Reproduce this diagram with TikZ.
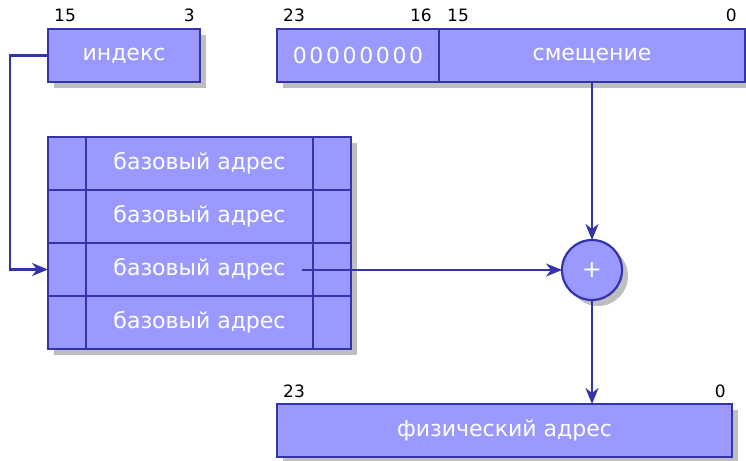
\documentclass[tikz,border=0pt]{standalone}
\usepackage{fontspec}
\setmainfont{DejaVu Sans}
\usetikzlibrary{arrows.meta,shadows}
\definecolor{cellfill}{RGB}{153,153,255}
\definecolor{celldraw}{RGB}{51,51,170}
\definecolor{shadowgray}{RGB}{190,190,190}
\begin{document}
\begin{tikzpicture}[x=1pt,y=-1pt,
  cell/.style={draw=celldraw, fill=cellfill, line width=2.2pt, inner sep=0pt,
    outer sep=0pt, minimum height=53pt, text=white,
    font=\fontsize{22}{26}\selectfont, anchor=north west,
    drop shadow={shadow xshift=6pt, shadow yshift=-6pt, fill=shadowgray, opacity=1}},
  bit/.style={font=\fontsize{17}{20}\selectfont, inner sep=0pt},
  link/.style={draw=celldraw, line width=2.2pt,
    -{Stealth[length=16pt,width=13pt,inset=5pt]}}
]
\useasboundingbox (0,0) rectangle (746,460);

% selector register
\node[cell, minimum width=152pt] (idx) at (48,29) {индекс};
\node[bit, anchor=base west] (i15) at (54,22) {15};
\node[bit, anchor=base east] (i3) at (195,22) {3};

% logical address: high byte and offset
\node[cell, minimum width=162pt] (zero) at (277,29)
  {\addfontfeature{LetterSpace=12}00000000};
\node[cell, minimum width=306pt] (off) at (439,29) {смещение};
\node[bit, anchor=base west] (a23) at (283,22) {23};
\node[bit, anchor=base east] (a16) at (432,22) {16};
\node[bit, anchor=base west] (a15) at (447,22) {15};
\node[bit, anchor=base east] (a0) at (737,22) {0};

% descriptor table
\foreach \i in {1,...,4} {
  \pgfmathsetmacro{\ry}{137+53*(\i-1)}
  \node[cell, minimum width=38pt] (l\i) at (48,\ry) {};
  \node[cell, minimum width=227pt] (m\i) at (86,\ry) {базовый адрес};
  \node[cell, minimum width=38pt] (r\i) at (313,\ry) {};
}

% adder
\node[circle, draw=celldraw, fill=cellfill, line width=2.2pt, minimum size=60pt,
  inner sep=0pt, outer sep=0pt, text=white, font=\fontsize{24}{26}\selectfont,
  drop shadow={shadow xshift=6pt, shadow yshift=-6pt, fill=shadowgray, opacity=1}]
  (sum) at (592,270) {+};

% physical address
\node[cell, minimum width=455pt] (phys) at (277,404) {физический адрес};
\node[bit, anchor=base west] (p23) at (283,397) {23};
\node[bit, anchor=base east] (p0) at (726,397) {0};

% connections
\coordinate (loop) at (10,0);
\coordinate (base) at (302,270);
\draw[link] (idx.west) -- (idx.west -| loop) |- (l3.west);
\draw[link] (base) -- (sum.west);
\draw[link] (off.south) -- (sum.north);
\draw[link] (sum.south) -- (sum.south |- phys.north);
\end{tikzpicture}
\end{document}
